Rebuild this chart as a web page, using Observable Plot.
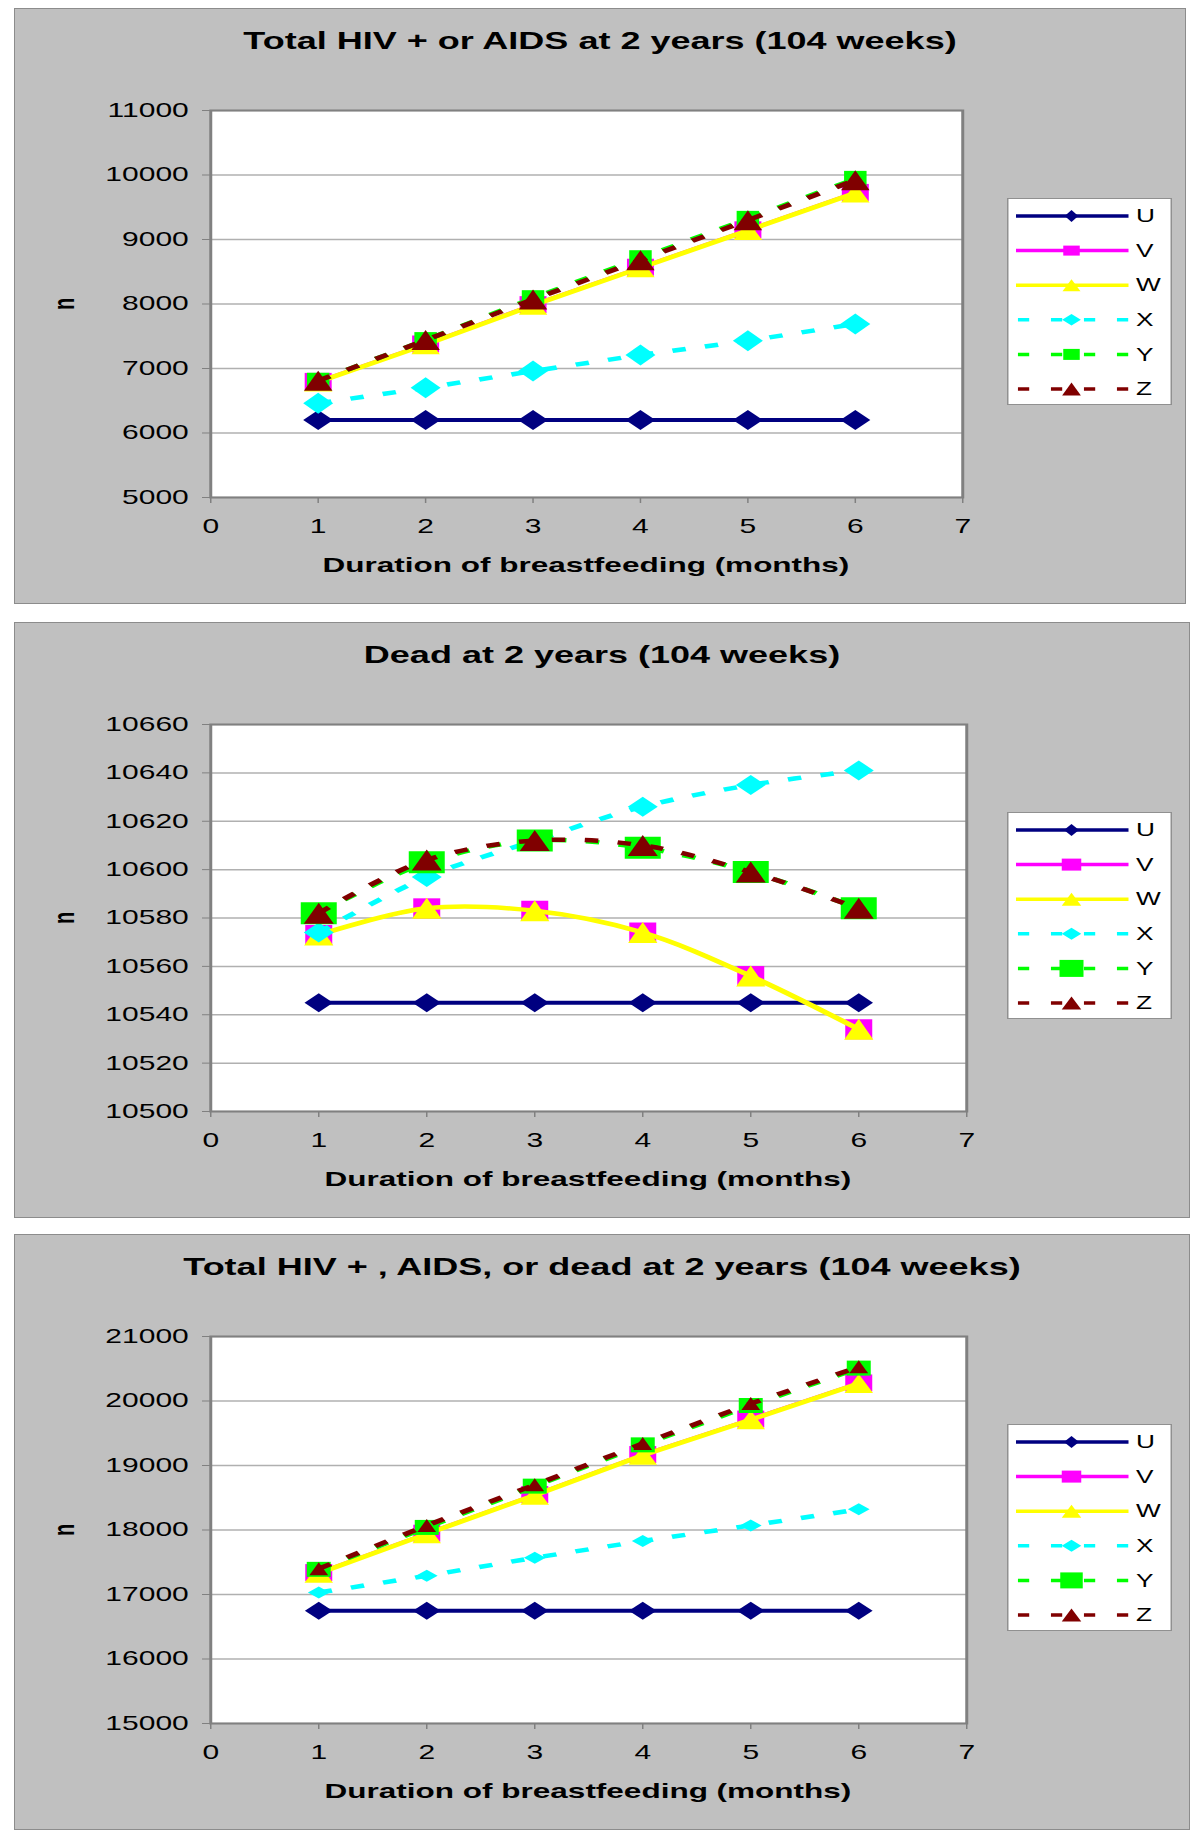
<!DOCTYPE html>
<html>
<head>
<meta charset="utf-8">
<script src="https://cdn.jsdelivr.net/npm/d3@7"></script>
<script src="https://cdn.jsdelivr.net/npm/@observablehq/plot@0.6"></script>
<style>
  html, body { margin: 0; padding: 0; background: #ffffff; }
  body { width: 1200px; height: 1843px; position: relative; overflow: hidden; font-family: "Liberation Sans", Arial, sans-serif; }
  .panel { position: absolute; left: 14px; height: 596px; background: #c0c0c0; border: 1px solid #8c8c8c; box-sizing: border-box; overflow: hidden; }
  .inner { position: absolute; left: -1px; top: -1px; height: 596px; transform-origin: 0 0; transform: scaleX(1.5); }
  .title { position: absolute; left: 0; right: 0; text-align: center; font-weight: bold; font-size: 24px; line-height: 24px; color: #000; white-space: nowrap; }
  .xlab { position: absolute; text-align: center; font-weight: bold; font-size: 21px; line-height: 22px; color: #000; white-space: nowrap; }
  .ylab { position: absolute; font-weight: bold; font-size: 20px; line-height: 20px; color: #000; transform: translate(-50%, -50%) rotate(-90deg); }
</style>
</head>
<body>
<script>
// ---------------- data ----------------
const months = [1, 2, 3, 4, 5, 6];
const xTicks = [0, 1, 2, 3, 4, 5, 6, 7];
const seriesNames = ["U", "V", "W", "X", "Y", "Z"];

const titles = [
  "Total HIV + or AIDS at 2 years (104 weeks)",
  "Dead at 2 years (104 weeks)",
  "Total HIV + , AIDS, or dead at 2 years (104 weeks)"
];
const xLabel = "Duration of breastfeeding (months)";
const yLabel = "n";

// Panel 1: Total HIV + or AIDS
const hivU = [6200, 6200, 6200, 6200, 6200, 6200];
const hivV = [6800, 7380, 7990, 8570, 9150, 9730];
const hivW = [6790, 7370, 7980, 8560, 9140, 9720];
const hivX = [6460, 6700, 6960, 7210, 7430, 7690];
const hivY = [6810, 7440, 8090, 8710, 9320, 9940];
const hivZ = [6810, 7440, 8070, 8680, 9300, 9920];
const hivTicks = [5000, 6000, 7000, 8000, 9000, 10000, 11000];

// Panel 2: Dead
const deadU = [10545, 10545, 10545, 10545, 10545, 10545];
const deadV = [10573, 10584, 10583, 10574, 10556, 10534];
const deadW = [10573, 10584, 10583, 10574, 10556, 10534];
const deadX = [10574, 10597, 10612, 10626, 10635, 10641];
const deadY = [10582, 10603, 10612, 10609, 10599, 10584];
const deadZ = [10582, 10604, 10612, 10610, 10599, 10584];
const deadTicks = [10500, 10520, 10540, 10560, 10580, 10600, 10620, 10640, 10660];

// Panel 3: Total HIV +, AIDS, or dead
const totU = [16750, 16750, 16750, 16750, 16750, 16750];
const totV = [17340, 17950, 18550, 19170, 19720, 20280];
const totW = [17330, 17940, 18540, 19160, 19710, 20270];
const totX = [17030, 17290, 17570, 17830, 18070, 18320];
const totY = [17390, 18040, 18680, 19320, 19930, 20510];
const totZ = [17400, 18070, 18700, 19340, 19960, 20530];
const totTicks = [15000, 16000, 17000, 18000, 19000, 20000, 21000];

// ---------------- styles ----------------
const SX = 1.5; // horizontal stretch of the original picture
const DASH = "9,13";
const seriesStyle = {
  U: {color: "#000080", dash: null, shape: "diamond", width: 4},
  V: {color: "#ff00ff", dash: null, shape: "square", width: 3},
  W: {color: "#ffff00", dash: null, shape: "triangle", width: 4.5},
  X: {color: "#00ffff", dash: DASH, shape: "diamond", width: 4.5},
  Y: {color: "#00ff00", dash: DASH, shape: "square", width: 4.5},
  Z: {color: "#800000", dash: DASH, shape: "triangle", width: 4.5}
};

function shape(kind, w, h) {
  return {
    draw(ctx) {
      const a = w / 2, b = h / 2;
      if (kind === "diamond") {
        ctx.moveTo(0, -b); ctx.lineTo(a, 0); ctx.lineTo(0, b); ctx.lineTo(-a, 0); ctx.closePath();
      } else if (kind === "square") {
        ctx.moveTo(-a, -b); ctx.lineTo(a, -b); ctx.lineTo(a, b); ctx.lineTo(-a, b); ctx.closePath();
      } else {
        ctx.moveTo(0, -b); ctx.lineTo(a, b); ctx.lineTo(-a, b); ctx.closePath();
      }
    }
  };
}

const panels = [
  {
    top: 8, width: 1172, title: titles[0],
    values: {U: hivU, V: hivV, W: hivW, X: hivX, Y: hivY, Z: hivZ},
    yDomain: [5000, 11000], yTicks: hivTicks, curve: "linear",
    marker: {U: [20, 20], V: [18, 17], W: [19, 19], X: [20, 21], Y: [15, 16], Z: [19, 20]},
    legendMarker: {U: [9, 12], V: [11, 10], W: [12, 12], X: [12.5, 11.5], Y: [11, 11], Z: [12.5, 13]}
  },
  {
    top: 622, width: 1176, title: titles[1],
    values: {U: deadU, V: deadV, W: deadW, X: deadX, Y: deadY, Z: deadZ},
    yDomain: [10500, 10660], yTicks: deadTicks, curve: "catmull-rom",
    marker: {U: [19, 19], V: [18, 20], W: [19.5, 21], X: [20, 20], Y: [24, 22], Z: [20, 21]},
    legendMarker: {U: [10, 12], V: [13, 12], W: [13, 13], X: [13, 12], Y: [16, 17], Z: [13, 13]}
  },
  {
    top: 1234, width: 1176, title: titles[2],
    values: {U: totU, V: totV, W: totW, X: totX, Y: totY, Z: totZ},
    yDomain: [15000, 21000], yTicks: totTicks, curve: "linear",
    marker: {U: [18.5, 18], V: [18, 17], W: [19, 19], X: [14.5, 12], Y: [16, 15], Z: [12.5, 13]},
    legendMarker: {U: [10, 12], V: [13, 12], W: [13, 13], X: [13, 12], Y: [15, 16], Z: [13, 13]}
  }
];

const PH = 596, MT = 102, MB = 107;
const ML = (210 - 14) / SX;
const MR = 224 / SX;

for (const p of panels) {
  const outer = document.createElement("div");
  outer.className = "panel";
  outer.style.top = p.top + "px";
  outer.style.width = p.width + "px";
  document.body.appendChild(outer);

  const W = p.width / SX;
  const inner = document.createElement("div");
  inner.className = "inner";
  inner.style.width = W + "px";
  outer.appendChild(inner);

  const marks = [
    Plot.frame({fill: "white"}),
    Plot.gridY(p.yTicks, {stroke: "#b0b0b0", strokeOpacity: 1, strokeWidth: 1.5})
  ];
  for (const s of seriesNames) {
    const st = seriesStyle[s];
    const data = months.map((m, i) => ({month: m, n: p.values[s][i]}));
    marks.push(Plot.line(data, {
      x: "month", y: "n", stroke: st.color,
      strokeWidth: st.width,
      strokeDasharray: st.dash || undefined,
      strokeLinecap: st.dash ? "butt" : "round",
      curve: p.curve
    }));
    const [w, h] = p.marker[s];
    marks.push(Plot.dot(data, {
      x: "month", y: "n", symbol: shape(st.shape, w, h), r: 5,
      fill: st.color, stroke: "none"
    }));
  }
  marks.push(Plot.frame({stroke: "#808080", strokeWidth: 2}));
  marks.push(Plot.axisX(xTicks, {tickSize: 6, tickPadding: 15, stroke: "#808080", fill: "black", label: null, tickFormat: d3.format("d")}));
  marks.push(Plot.axisY(p.yTicks, {tickSize: 8 / SX, tickPadding: 14 / SX, stroke: "#808080", fill: "black", label: null, tickFormat: d3.format("d")}));

  const chart = Plot.plot({
    width: W, height: PH,
    marginLeft: ML, marginRight: MR, marginTop: MT, marginBottom: MB,
    x: {domain: [0, 7]},
    y: {domain: p.yDomain},
    style: {background: "transparent", overflow: "visible", fontFamily: "'Liberation Sans', Arial, sans-serif", fontSize: "20px", color: "black"},
    marks
  });
  chart.style.position = "absolute";
  chart.style.left = "0px";
  chart.style.top = "0px";
  chart.style.maxWidth = "none";
  inner.appendChild(chart);

  // title
  const t = document.createElement("div");
  t.className = "title";
  t.style.top = (33 - 12) + "px";
  t.textContent = p.title;
  inner.appendChild(t);

  // x axis label
  const frameCx = ML + (W - ML - MR) / 2;
  const xl = document.createElement("div");
  xl.className = "xlab";
  xl.style.left = (frameCx - 250) + "px";
  xl.style.width = "500px";
  xl.style.top = (PH - MB + 68 - 11) + "px";
  xl.textContent = xLabel;
  inner.appendChild(xl);

  // y axis label
  const yl = document.createElement("div");
  yl.className = "ylab";
  yl.style.left = "33px";
  yl.style.top = (MT + (PH - MT - MB) / 2) + "px";
  yl.textContent = yLabel;
  inner.appendChild(yl);

  // legend
  const lg = d3.create("svg")
    .attr("width", 110).attr("height", 207)
    .style("position", "absolute").style("left", "662px").style("top", "190px")
    .style("overflow", "visible")
    .style("font-family", "'Liberation Sans', Arial, sans-serif");
  lg.append("rect").attr("x", 0.5).attr("y", 0.5).attr("width", 109).attr("height", 206)
    .attr("fill", "white").attr("stroke", "#909090");
  seriesNames.forEach((s, i) => {
    const st = seriesStyle[s];
    const y = 18 + i * 34.6;
    lg.append("line").attr("x1", 6).attr("x2", 81).attr("y1", y).attr("y2", y)
      .attr("stroke", st.color).attr("stroke-width", 3.5)
      .attr("stroke-dasharray", st.dash ? "7.5,14.5" : null)
      .attr("stroke-dashoffset", st.dash ? -1.3 : null)
      .attr("stroke-linecap", "butt");
    const [w, h] = p.legendMarker[s];
    lg.append("path").attr("transform", `translate(43,${y})`)
      .attr("d", d3.symbol(shape(st.shape, w, h))()).attr("fill", st.color);
    lg.append("text").attr("x", 86).attr("y", y).attr("dy", "0.36em")
      .attr("font-size", 17.5).attr("fill", "black").text(s);
  });
  inner.appendChild(lg.node());
}
</script>
</body>
</html>
